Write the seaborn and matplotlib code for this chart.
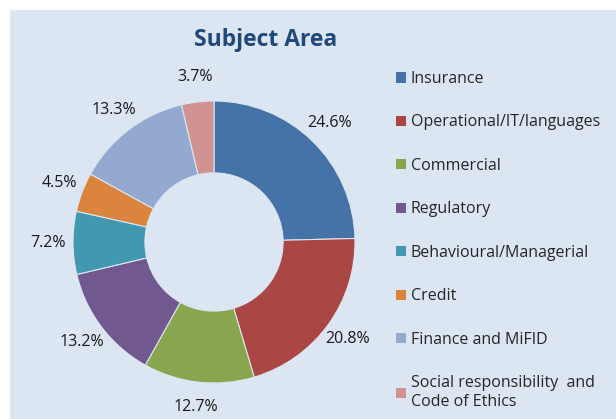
import matplotlib
matplotlib.use("Agg")
from matplotlib import pyplot as plt
from matplotlib.patches import Rectangle, Patch
import seaborn as sns

categories = ["Insurance", "Operational/IT/languages", "Commercial", "Regulatory",
              "Behavioural/Managerial", "Credit", "Finance and MiFID",
              "Social responsibility  and\nCode of Ethics"]
shares = [24.6, 20.8, 12.7, 13.2, 7.2, 4.5, 13.3, 3.7]
colors = ["#4572A7", "#AA4643", "#89A54E", "#71588F",
          "#4198AF", "#DB843D", "#93A9CF", "#D19392"]

sns.set_theme(style="white")
plt.rcParams['font.family'] = ['Open Sans', 'DejaVu Sans']

panel = "#dce6f2"
W, H = 616, 419
fig = plt.figure(figsize=(W / 100, H / 100), dpi=100)
fig.patch.set_facecolor("white")
fig.patches.append(Rectangle((10 / W, 0), 1, (H - 10) / H, transform=fig.transFigure,
                             facecolor=panel, edgecolor="none", zorder=-10))

# donut: centre ~ (214, 242) px, outer radius ~141 px
lim = 1.25
size = 2 * lim * 141
cx, cy = 214, H - 242
ax = fig.add_axes([(cx - size / 2) / W, (cy - size / 2) / H, size / W, size / H])
ax.set_facecolor("none")
pal = sns.color_palette(colors)
wedges, _, autotexts = ax.pie(shares, colors=pal, startangle=90, counterclock=False,
                              autopct="%.1f%%", pctdistance=1.175,
                              wedgeprops=dict(width=0.51, edgecolor=panel, linewidth=0.8),
                              textprops=dict(fontsize=11.5, color="#1a1a1a"))
ax.set_xlim(-lim, lim)
ax.set_ylim(-lim, lim)
ax.set_aspect("equal")
ax.axis("off")

fig.text(266 / W, 1 - 40 / H, "Subject Area", ha="center", va="center",
         fontsize=16.5, fontweight="bold", color="#1F497D")

handles = [Patch(facecolor=c, edgecolor="none") for c in pal]
fig.legend(handles, categories, loc="upper left", bbox_to_anchor=(396 / W, 1 - 71 / H),
           frameon=False, fontsize=11.5, labelspacing=1.72, handlelength=0.62,
           handleheight=0.62, handletextpad=0.3, borderaxespad=0, borderpad=0)

fig.savefig("out.png", dpi=100, facecolor=fig.get_facecolor())
